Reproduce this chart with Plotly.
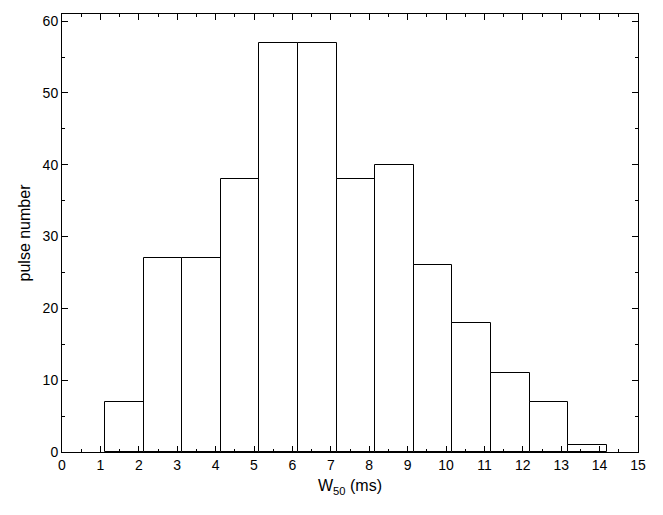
import plotly.graph_objects as go

bin_start = 1.12
bin_width = 1.005
counts = [7, 27, 27, 38, 57, 57, 38, 40, 26, 18, 11, 7, 1]
centers = [bin_start + bin_width * (i + 0.5) for i in range(len(counts))]

fig = go.Figure(go.Bar(x=centers, y=counts, width=bin_width,
                       marker=dict(color="white", line=dict(color="black", width=1))))

font = dict(family="Liberation Sans, Arial", size=14, color="black")
axis_common = dict(showline=True, linecolor="black", linewidth=1, mirror="allticks",
                   ticks="inside", ticklen=6, tickcolor="black", showgrid=False, zeroline=False,
                   tickfont=font, automargin=False)
fig.update_xaxes(range=[0, 15], dtick=1, minor=dict(dtick=0.5, ticks="inside", ticklen=3, tickcolor="black"),
                 title=dict(text="W<sub>50</sub> (ms)", standoff=8, font=dict(font, size=16)), **axis_common)
fig.update_yaxes(range=[0, 61], dtick=10, minor=dict(dtick=5, ticks="inside", ticklen=3, tickcolor="black"),
                 title=dict(text="pulse number", standoff=8, font=dict(font, size=16)), **axis_common)
fig.update_layout(width=640, height=490, plot_bgcolor="white", paper_bgcolor="white",
                  margin=dict(l=54, r=10, t=6, b=46), showlegend=False, bargap=0)
fig.write_html("out.html")
